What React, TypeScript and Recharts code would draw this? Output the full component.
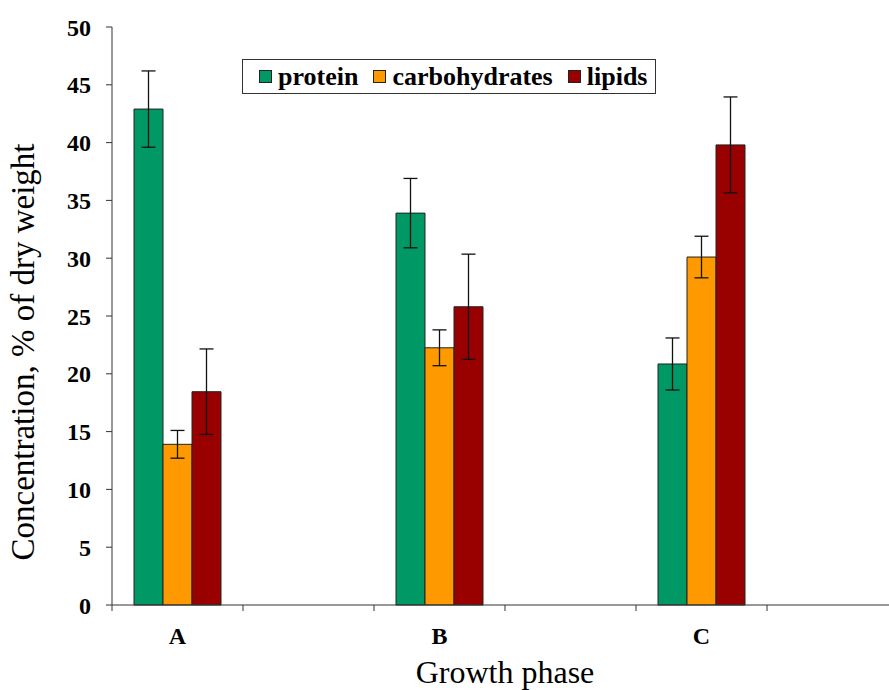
import React from 'react';
import { BarChart, Bar, XAxis, YAxis, ErrorBar, Legend, Label } from 'recharts';

const phases = ['A', 'B', 'C'];
const protein = [42.9, 33.9, 20.85];
const proteinErr = [3.3, 3.0, 2.25];
const carbs = [13.9, 22.25, 30.1];
const carbsErr = [1.2, 1.55, 1.8];
const lipids = [18.45, 25.8, 39.8];
const lipidsErr = [3.7, 4.55, 4.15];
const yTicks = [0, 5, 10, 15, 20, 25, 30, 35, 40, 45, 50];

const series = [
  { key: 'protein', name: 'protein', color: '#009966' },
  { key: 'carbs', name: 'carbohydrates', color: '#FF9900' },
  { key: 'lipids', name: 'lipids', color: '#990000' },
];

// every phase is followed by an empty slot, like the original spreadsheet layout
const table = phases.flatMap((p, i) => [
  {
    phase: p,
    protein: protein[i],
    proteinErr: proteinErr[i],
    carbs: carbs[i],
    carbsErr: carbsErr[i],
    lipids: lipids[i],
    lipidsErr: lipidsErr[i],
  },
  { phase: '' },
]);

const W = 889;
const H = 690;
const margin = { top: 27, right: -9, bottom: 0, left: 0 };
const Y_AXIS_W = 112;
const band = (W - Y_AXIS_W - margin.left - margin.right) / table.length;
const serif = "'Liberation Serif', 'Times New Roman', serif";

function PhaseTick(props: any) {
  const { x, y, payload } = props;
  const edge = x - band / 2;
  return (
    <g>
      <line x1={edge} x2={edge} y1={y} y2={y + 6} stroke="#333" />
      <text x={x} y={y + 39} textAnchor="middle" fontFamily={serif} fontWeight="bold" fontSize={24} fill="#000">
        {payload.value}
      </text>
    </g>
  );
}

function LegendBox() {
  return (
    <div
      style={{
        display: 'flex',
        alignItems: 'center',
        height: 35,
        border: '1.5px solid #333',
        paddingLeft: 16,
        boxSizing: 'border-box',
        background: '#fff',
      }}
    >
      {series.map((s) => (
        <div key={s.key} style={{ display: 'flex', alignItems: 'center', marginRight: 15 }}>
          <span
            style={{
              display: 'inline-block',
              width: 11,
              height: 11,
              background: s.color,
              border: '1.5px solid #222',
              marginRight: 6,
            }}
          />
          <span style={{ fontFamily: serif, fontWeight: 'bold', fontSize: 26, color: '#000', lineHeight: 1 }}>
            {s.name}
          </span>
        </div>
      ))}
    </div>
  );
}

export default function App() {
  return (
    <div style={{ position: 'absolute', left: 0, top: 0, width: W, height: H, background: '#fff', overflow: 'hidden' }}>
      <BarChart width={W} height={H} data={table} margin={margin} barGap={0} barCategoryGap={22}>
        <XAxis
          dataKey="phase"
          height={85}
          tickLine={false}
          tickSize={0}
          tickMargin={0}
          axisLine={{ stroke: '#333' }}
          tick={<PhaseTick />}
          interval={0}
        >
          <Label
            value="Growth phase"
            position="insideBottom"
            offset={7}
            style={{ fontFamily: serif, fontSize: 32, fill: '#000' }}
          />
        </XAxis>
        <YAxis
          width={Y_AXIS_W}
          domain={[0, 50]}
          ticks={yTicks}
          interval={0}
          tickSize={6}
          tickMargin={15}
          axisLine={{ stroke: '#333' }}
          tickLine={{ stroke: '#333' }}
          tick={{ fontFamily: serif, fontWeight: 'bold', fontSize: 24, fill: '#000' }}
        >
          <Label
            content={() => (
              <text
                transform="translate(34, 352) rotate(-90)"
                textAnchor="middle"
                style={{ fontFamily: serif, fontSize: 33, fill: '#000' }}
              >
                Concentration, % of dry weight
              </text>
            )}
          />
        </YAxis>
        <Legend
          layout="horizontal"
          verticalAlign="middle"
          align="center"
          content={<LegendBox />}
          wrapperStyle={{ top: 59, left: 242, width: 414, height: 35 }}
        />
        {series.map((s) => (
          <Bar key={s.key} dataKey={s.key} name={s.name} fill={s.color} stroke="#222" strokeWidth={1} isAnimationActive={false}>
            <ErrorBar dataKey={`${s.key}Err`} width={7} stroke="#111" strokeWidth={1.3} />
          </Bar>
        ))}
      </BarChart>
    </div>
  );
}
